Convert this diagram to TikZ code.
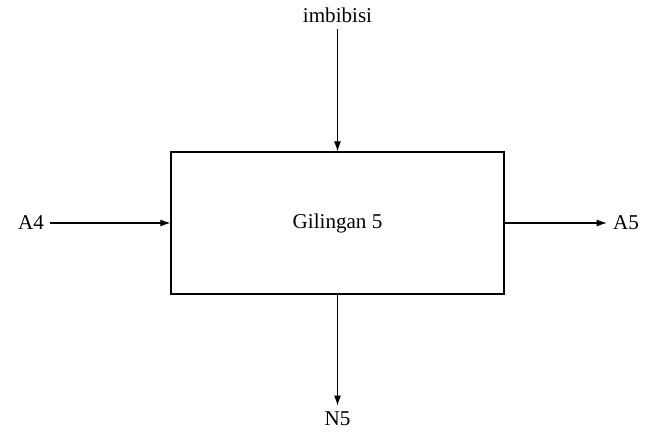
\documentclass[tikz,border=0pt]{standalone}
\usepackage{fontspec}
\setmainfont{Liberation Serif}
\usetikzlibrary{arrows,arrows.meta,shapes,positioning}

\begin{document}
\begin{tikzpicture}[font=\fontsize{12}{14}\selectfont, >={Latex[length=2mm,width=1.4mm]}, line width=0.6pt]
    \useasboundingbox (0,0) rectangle (13.28,8.68);

    \node[draw, line width=0.7pt, minimum width=6.66cm, minimum height=2.84cm] (gil) at (6.75,4.22) {Gilingan 5};

    \node (imb) at (6.75,8.38) {imbibisi}; \draw[->] (imb) -- (gil);
    \node (a4) at (0.62,4.22) {A4}; \draw[->] (a4) -- (gil);
    \node (a5) at (12.52,4.22) {A5}; \draw[->] (gil) -- (a5);
    \node (n5) at (6.75,0.3) {N5}; \draw[->] (gil) -- (n5);
\end{tikzpicture}
\end{document}
